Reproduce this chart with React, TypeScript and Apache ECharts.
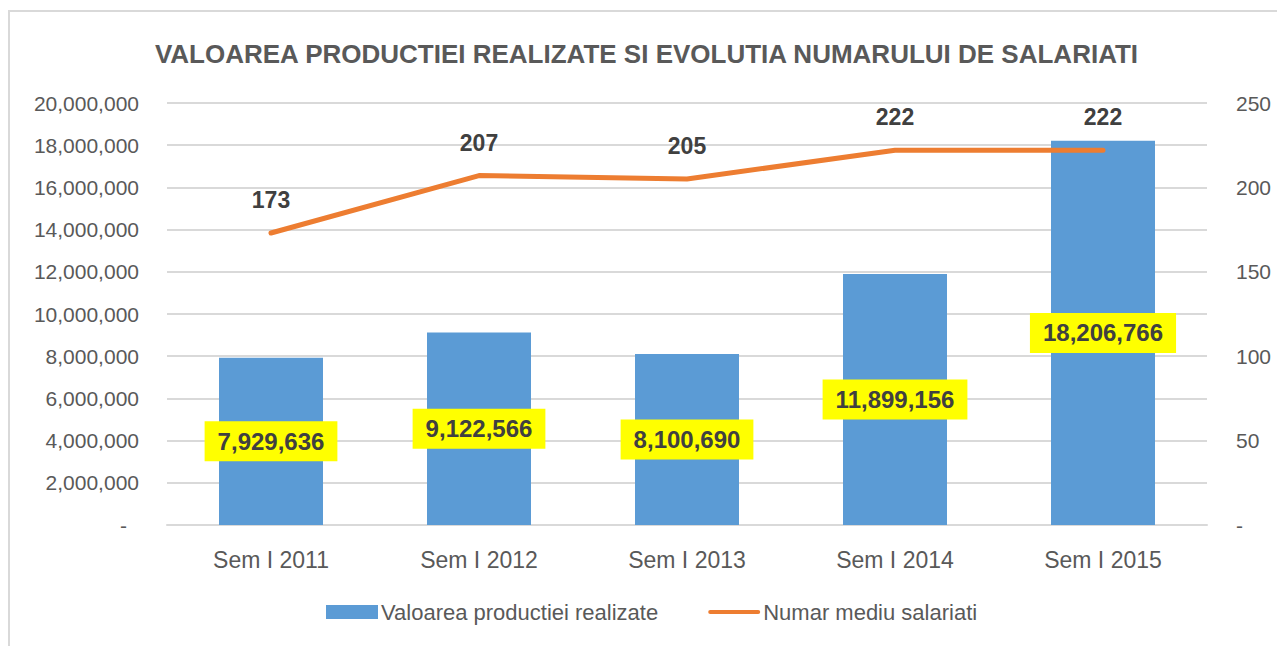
import React, { useEffect, useRef } from "react";
import * as echarts from "echarts";

const categories = ["Sem I 2011", "Sem I 2012", "Sem I 2013", "Sem I 2014", "Sem I 2015"];
const productionValues = [7929636, 9122566, 8100690, 11899156, 18206766];
const employeeValues = [173, 207, 205, 222, 222];
const titleText = "VALOAREA PRODUCTIEI REALIZATE SI EVOLUTIA NUMARULUI DE SALARIATI";
const seriesNames = ["Valoarea productiei realizate", "Numar mediu salariati"];

const FONT = "'Liberation Sans', Arial, sans-serif";
const fmt = (v: number) => Math.round(v).toLocaleString("en-US");

export default function App() {
  const ref = useRef<HTMLDivElement>(null);
  useEffect(() => {
    if (!ref.current) return;
    const chart = echarts.init(ref.current, null, { renderer: "svg" });
    chart.setOption({
      animation: false,
      textStyle: { fontFamily: FONT },
      title: {
        text: titleText,
        left: "center",
        top: 28,
        textStyle: { fontFamily: FONT, fontSize: 26, fontWeight: "bold", color: "#595959" },
      },
      graphic: [
        { type: "line", shape: { x1: 1, y1: 3, x2: 1, y2: 640 }, style: { stroke: "#D9D9D9", lineWidth: 2 } },
        { type: "line", shape: { x1: 0, y1: 3, x2: 1280, y2: 3 }, style: { stroke: "#D9D9D9", lineWidth: 2 } },
      ],
      legend: {
        bottom: 18,
        left: 313,
        itemGap: 50,
        itemWidth: 52,
        itemHeight: 14,
        textStyle: { fontFamily: FONT, fontSize: 22, color: "#595959", padding: [0, 0, 0, -2] },
        data: [
          { name: seriesNames[0], icon: "rect" },
          { name: seriesNames[1], icon: "path://M2,0 L50,0 A2,2 0 0 1 50,4 L2,4 A2,2 0 0 1 2,0 Z" },
        ],
      },
      grid: { left: 159, right: 78, top: 95, bottom: 121 },
      xAxis: {
        type: "category",
        data: categories,
        axisTick: { show: false },
        axisLine: { lineStyle: { color: "#D9D9D9", width: 2 } },
        axisLabel: { fontFamily: FONT, fontSize: 23, color: "#595959", margin: 23 },
      },
      yAxis: [
        {
          type: "value",
          min: 0,
          max: 20000000,
          interval: 2000000,
          axisLine: { show: false },
          axisTick: { show: false },
          splitLine: { lineStyle: { color: "#D9D9D9", width: 2 } },
          axisLabel: {
            fontFamily: FONT,
            fontSize: 21,
            color: "#595959",
            margin: 28,
            formatter: (v: number) => (v === 0 ? "{d|-}" : fmt(v)),
            rich: { d: { fontFamily: FONT, fontSize: 21, color: "#595959", padding: [0, 12, 0, 0] } },
          },
        },
        {
          type: "value",
          min: 0,
          max: 250,
          interval: 50,
          position: "right",
          axisLine: { show: false },
          axisTick: { show: false },
          splitLine: { show: false },
          axisLabel: {
            fontFamily: FONT,
            fontSize: 21,
            color: "#595959",
            margin: 29,
            formatter: (v: number) => (v === 0 ? "-" : String(v)),
          },
        },
      ],
      series: [
        {
          name: seriesNames[0],
          type: "bar",
          yAxisIndex: 0,
          data: productionValues,
          barWidth: "50%",
          itemStyle: { color: "#5B9BD5" },
          label: {
            show: true,
            position: "inside",
            formatter: (p: any) => fmt(p.value),
            fontFamily: FONT,
            fontSize: 24,
            fontWeight: "bold",
            color: "#404040",
            backgroundColor: "#FFFF00",
            padding: [9, 13, 7, 13],
          },
        },
        {
          name: seriesNames[1],
          type: "line",
          yAxisIndex: 1,
          data: employeeValues,
          symbol: "circle",
          symbolSize: 1,
          showSymbol: true,
          z: 5,
          lineStyle: { color: "#ED7D31", width: 5, cap: "round", join: "round" },
          itemStyle: { color: "#ED7D31" },
          label: {
            show: true,
            position: "top",
            distance: 21,
            fontFamily: FONT,
            fontSize: 23,
            fontWeight: "bold",
            color: "#404040",
          },
        },
      ],
    });
    return () => chart.dispose();
  }, []);
  return <div ref={ref} style={{ width: 1277, height: 638 }} />;
}
